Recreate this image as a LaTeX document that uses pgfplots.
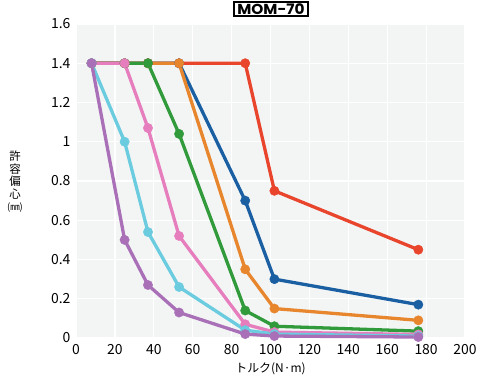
\documentclass[border=0pt]{standalone}
\usepackage{fontspec}
\setmainfont{Noto Sans CJK JP}
\newfontfamily\titlefont{Poppins}[FakeStretch=1.06]
\usepackage{pgfplots}
\pgfplotsset{compat=1.18}
\definecolor{cRed}{HTML}{E8452C}
\definecolor{cBlue}{HTML}{1B5FA3}
\definecolor{cOrange}{HTML}{E8862E}
\definecolor{cGreen}{HTML}{319A3A}
\definecolor{cPink}{HTML}{E67DBD}
\definecolor{cCyan}{HTML}{6BCBDF}
\definecolor{cPurple}{HTML}{A970B8}
\definecolor{bgGray}{HTML}{F3F5F5}
\begin{document}
\begin{tikzpicture}[x=1bp,y=1bp]
\useasboundingbox (0,0) rectangle (480,381);
\begin{axis}[
  at={(76bp,43bp)}, anchor=south west,
  scale only axis, width=389bp, height=314bp,
  xmin=0, xmax=200, ymin=0, ymax=1.6,
  xtick={0,20,...,200}, ytick={0,0.2,...,1.6},
  yticklabels={0,0.2,0.4,0.6,0.8,1,1.2,1.4,1.6},
  axis line style={draw=none}, major tick length=0pt,
  axis background/.style={fill=bgGray},
  grid=major, grid style={white, line width=1.2pt},
  tick label style={font=\fontsize{14}{15}\selectfont, black},
  /pgf/number format/assume math mode=true,
  xticklabel style={yshift=-3bp},
  yticklabel style={xshift=-2bp},
  every axis plot/.append style={line width=3.3pt, mark=*, mark size=4.7pt},
  clip=false,
]
\addplot[cRed, mark options={fill=cRed, line width=0.4pt}] coordinates {(8,1.4)(25,1.4)(37,1.4)(53,1.4)(87,1.4)(102,0.75)(176,0.45)};
\addplot[cBlue, mark options={fill=cBlue, line width=0.4pt}] coordinates {(8,1.4)(25,1.4)(37,1.4)(53,1.4)(87,0.70)(102,0.30)(176,0.17)};
\addplot[cOrange, mark options={fill=cOrange, line width=0.4pt}] coordinates {(8,1.4)(25,1.4)(37,1.4)(53,1.4)(87,0.35)(102,0.15)(176,0.09)};
\addplot[cGreen, mark options={fill=cGreen, line width=0.4pt}] coordinates {(8,1.4)(25,1.4)(37,1.4)(53,1.04)(87,0.14)(102,0.06)(176,0.035)};
\addplot[cPink, mark options={fill=cPink, line width=0.4pt}] coordinates {(8,1.4)(25,1.4)(37,1.07)(53,0.52)(87,0.07)(102,0.03)(176,0.018)};
\addplot[cCyan, mark options={fill=cCyan, line width=0.4pt}] coordinates {(8,1.4)(25,1.0)(37,0.54)(53,0.26)(87,0.04)(102,0.02)(176,0.01)};
\addplot[cPurple, mark options={fill=cPurple, line width=0.4pt}] coordinates {(8,1.4)(25,0.5)(37,0.27)(53,0.13)(87,0.02)(102,0.01)(176,0.005)};
\end{axis}
\node[draw=black, line width=1.2pt, inner xsep=3.5pt, inner ysep=1.5pt, font=\titlefont\bfseries\fontsize{14.5}{15}\selectfont] at (271,372) {MOM-70};
\node[font=\fontsize{12}{13}\selectfont] at (270.5,12) {トルク(N·m)};
\node[font=\fontsize{11.5}{12.5}\selectfont, align=center, inner sep=0pt] at (15,199) {許\\容\\偏\\心\\{\fontsize{9.5}{10}\selectfont(㎜)}};
\end{tikzpicture}
\end{document}
